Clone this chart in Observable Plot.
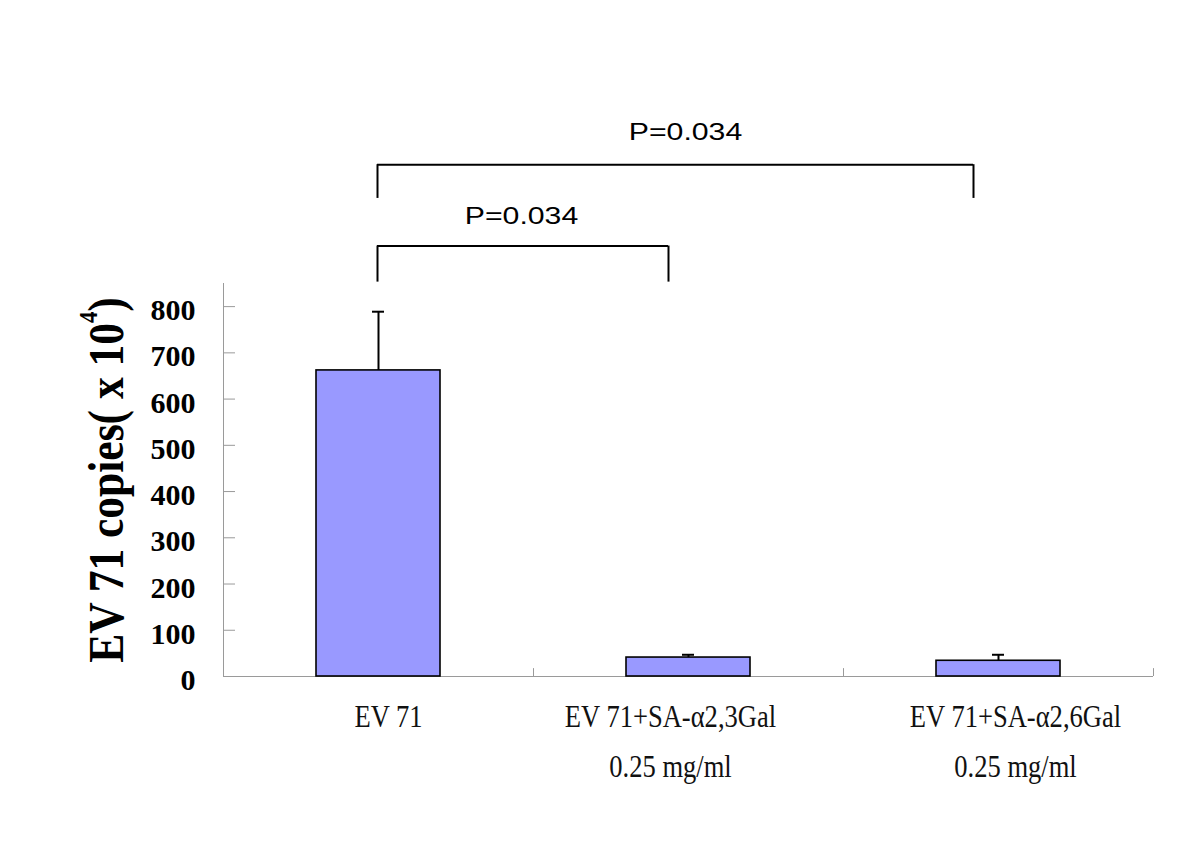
<!DOCTYPE html>
<html>
<head>
<meta charset="utf-8">
<script src="https://cdn.jsdelivr.net/npm/d3@7"></script>
<script src="https://cdn.jsdelivr.net/npm/@observablehq/plot@0.6"></script>
<style>
  body { margin: 0; background: #fff; }
  svg { display: block; }
</style>
</head>
<body>
<div id="chart"></div>
<script>
// ---------- data ----------
const categories = ["EV 71", "EV 71+SA-α2,3Gal 0.25 mg/ml", "EV 71+SA-α2,6Gal 0.25 mg/ml"];
const labelLine1 = ["EV 71", "EV 71+SA-α2,3Gal", "EV 71+SA-α2,6Gal"];
const labelLine2 = ["", "0.25 mg/ml", "0.25 mg/ml"];
const means = [662, 41, 34];
const errors = [127, 6, 13];
const yTicks = [0, 100, 200, 300, 400, 500, 600, 700, 800];
const yMax = 850;
const yLabelMain = "EV 71 copies( x 10";
const yLabelSup = "4";
const yLabelEnd = ")";
const compFrom = [0, 0];
const compTo = [1, 2];
const compLow = [853, 1034];
const compHigh = [931, 1107];
const compText = ["P=0.034", "P=0.034"];
const compLabelY = [979, 1160];

const data = categories.map((c, i) => ({category: c, mean: means[i], err: errors[i]}));

// ---------- layout constants ----------
const W = 1200, H = 858;
const mL = 223, mR = 47, mT = 283, mB = 182;
const bw = (W - mL - mR) / categories.length;
const grey = "#9a9a9a";
const xLabelDx = [10, -18, 17];
const compEndDx = [[-1, -20], [-1, -25]];
const compLabelDx = [143, 307];

const marks = [
  // axes lines
  Plot.ruleY([0], {stroke: grey, strokeWidth: 1}),
  Plot.ruleX([categories[0]], {x: d => d, y1: 0, y2: yMax, dx: -bw / 2, stroke: grey, strokeWidth: 1}),
  Plot.ruleY(yTicks, {y: d => d, insetRight: W - mL - mR - 12, stroke: grey, strokeWidth: 1}),
  Plot.ruleX(categories, {x: d => d, y1: 0, y2: 17, dx: bw / 2, stroke: grey, strokeWidth: 1}),
  Plot.axisY({ticks: yTicks, tickSize: 0, tickPadding: 28, tickFormat: d => String(d),
              fontSize: 30, fontWeight: "bold", fontFamily: "Liberation Serif", dy: 4, label: null}),
  // bars
  Plot.barY(data, {x: "category", y: "mean", fill: "#9999ff", stroke: "#000", strokeWidth: 1.6,
                   insetLeft: 93, insetRight: 93}),
  // error bars
  Plot.ruleX(data, {x: "category", y1: "mean", y2: d => d.mean + d.err, stroke: "#000", strokeWidth: 2}),
  Plot.tickY(data, {x: "category", y: d => d.mean + d.err, insetLeft: bw / 2 - 6, insetRight: bw / 2 - 6,
                    stroke: "#000", strokeWidth: 2}),
  // y label
  Plot.text([yLabelMain + yLabelSup + yLabelEnd], {text: d => d, frameAnchor: "left", textAnchor: "middle",
              rotate: -90, dx: -101,
              fontSize: 50, fontWeight: "bold", fontFamily: "Liberation Serif", fill: "#000"})
];

// x labels
categories.forEach((c, i) => {
  marks.push(Plot.text([c], {x: d => d, frameAnchor: "bottom", text: () => labelLine1[i], dx: xLabelDx[i], dy: 50,
                             fontSize: 32, fontFamily: "Liberation Serif", fill: "#111"}));
  if (labelLine2[i]) {
    marks.push(Plot.text([c], {x: d => d, frameAnchor: "bottom", text: () => labelLine2[i], dx: xLabelDx[i], dy: 100,
                               fontSize: 32, fontFamily: "Liberation Serif", fill: "#111"}));
  }
});

// comparison brackets
compFrom.forEach((f, k) => {
  const a = categories[f], b = categories[compTo[k]];
  const [dA, dB] = compEndDx[k];
  marks.push(Plot.ruleX([a], {x: d => d, y1: compLow[k], y2: compHigh[k], dx: dA, stroke: "#000", strokeWidth: 2}));
  marks.push(Plot.ruleX([b], {x: d => d, y1: compLow[k], y2: compHigh[k], dx: dB, stroke: "#000", strokeWidth: 2}));
  marks.push(Plot.ruleY([compHigh[k]], {y: d => d, x1: () => a, x2: () => b,
                                         insetLeft: bw / 2 + dA, insetRight: bw / 2 - dB,
                                         stroke: "#000", strokeWidth: 2}));
  marks.push(Plot.text([compText[k]], {x: () => a, y: () => compLabelY[k], text: d => d, dx: compLabelDx[k],
                                        fontSize: 24, fontFamily: "Liberation Sans", fill: "#000"}));
});

const svg = Plot.plot({
  width: W, height: H,
  marginLeft: mL, marginRight: mR, marginTop: mT, marginBottom: mB,
  style: {fontFamily: "Liberation Serif", fontSize: "30px", color: "#000", background: "#fff", overflow: "visible"},
  x: {domain: categories, padding: 0, axis: null},
  y: {domain: [0, yMax], axis: null},
  marks
});
document.getElementById("chart").appendChild(svg);

// ---------- post styling: condensed/stretched glyphs, superscript ----------
function rescale(t, sx) {
  const x = +t.getAttribute("x") || 0, y = +t.getAttribute("y") || 0;
  t.removeAttribute("x"); t.removeAttribute("y");
  const tr = t.getAttribute("transform") || "";
  t.setAttribute("transform", `${tr} translate(${x},${y}) scale(${sx},1)`);
}
svg.querySelectorAll("text").forEach(t => {
  const s = t.textContent;
  if (labelLine1.includes(s) || (s && labelLine2.includes(s))) rescale(t, 0.83);
  else if (s.startsWith("P=")) rescale(t, 1.26);
  else if (s.startsWith(yLabelMain)) {
    const sel = d3.select(t);
    sel.text(null);
    sel.append("tspan").text(yLabelMain);
    sel.append("tspan").attr("font-size", 26).attr("dy", -26).text(yLabelSup);
    sel.append("tspan").attr("dy", 26).text(yLabelEnd);
    rescale(t, 0.87);
  }
});
</script>
</body>
</html>
